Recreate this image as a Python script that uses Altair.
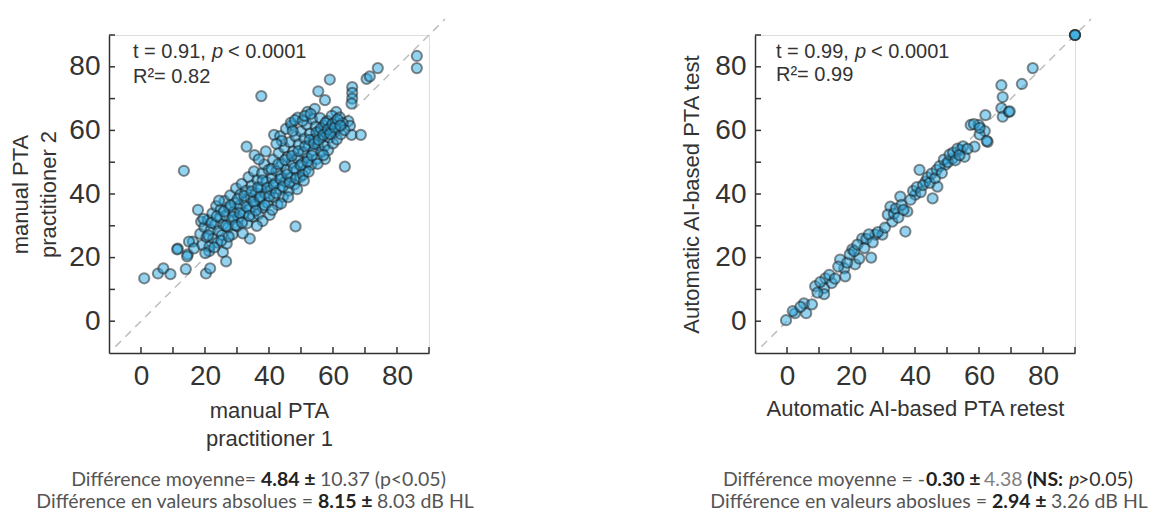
import altair as alt
import pandas as pd

# ---------------- data ----------------
TICKS = [0, 10, 20, 30, 40, 50, 60, 70, 80, 90]
LABEL_TICKS = [0, 20, 40, 60, 80]
DIAG = [-8, 95]

# left panel: (manual PTA practitioner 1, manual PTA practitioner 2)
LEFT_POINTS = [
    (1, 13.5), (5.3, 15), (7, 16.6), (9.2, 14.8), (11.5, 22.8), (13.4, 47.3), (14, 16.4),
    (14.6, 21), (17.8, 35), (16.2, 25), (20.3, 15), (21.6, 16.6), (25.6, 21.7), (26.6, 18.8),
    (34, 26), (37.6, 70.8), (48.3, 29.8), (33, 54.9), (41.6, 58.6), (57.5, 51), (63.7, 48.6),
    (59, 76), (55.4, 72.3), (57.5, 69.5), (66, 73.6), (66, 71.8), (66, 70), (65.8, 68.4),
    (64.8, 62.9), (65.3, 61.4), (65.8, 58.6), (68.7, 58.6), (70.5, 76.2), (71.5, 77), (74, 79.6),
    (86.2, 83.4), (86.2, 79.6), (61, 65.8), (52, 65.8), (49, 64), (47, 61.6), (54.3, 66.8),
    (35.5, 52.2), (18.8, 31.3), (15, 25), (16.6, 22.9), (21.3, 22), (14.4, 20.4), (11.3, 22.6),
    (18.5, 27.5), (19.2, 24), (19.8, 29.6), (20.5, 26.4), (20.9, 31.8), (21.4, 23.5), (21.8, 28.7),
    (22.3, 33.9), (22.6, 26), (23.1, 30.5), (23.5, 36.2), (23.9, 24.7), (24.2, 28.3), (24.6, 32.6),
    (24.9, 35.1), (25.3, 27.1), (25.7, 30.4), (26.1, 37.8), (26.4, 33.2), (26.8, 24.4), (27.2, 29.5),
    (27.5, 35.7), (27.9, 39.6), (28.3, 31.9), (28.6, 27.3), (29.0, 34.4), (29.3, 37.1), (29.7, 41.8),
    (30.1, 29.9), (30.4, 32.7), (30.8, 36.3), (31.1, 39.9), (31.5, 43.2), (31.8, 27.6), (32.2, 34.1),
    (32.5, 37.6), (32.9, 41.1), (33.2, 30.8), (33.6, 45.3), (33.9, 35.4), (34.3, 38.7), (34.6, 42.6),
    (35.0, 32.9), (35.3, 47.1), (35.7, 36.8), (36.0, 40.2), (36.4, 44.4), (36.7, 33.6), (37.1, 38.3),
    (37.4, 42.0), (37.8, 46.5), (38.1, 35.7), (38.5, 49.3), (38.8, 40.1), (39.2, 43.8), (39.5, 37.2),
    (39.9, 47.6), (40.2, 33.4), (40.6, 41.3), (40.9, 45.0), (41.3, 50.8), (41.6, 38.9), (42.0, 43.4),
    (42.3, 47.2), (42.7, 36.6), (43.0, 52.9), (43.4, 41.5), (43.7, 45.8), (44.1, 49.5), (44.4, 39.2),
    (44.8, 54.6), (45.1, 43.9), (45.5, 47.7), (45.8, 51.6), (46.2, 41.1), (46.5, 56.3), (46.9, 45.2),
    (47.2, 49.8), (47.6, 53.4), (47.9, 43.0), (48.3, 58.1), (48.6, 47.4), (49.0, 51.2), (49.3, 55.6),
    (49.7, 45.3), (50.0, 59.7), (50.4, 49.6), (50.7, 53.1), (51.1, 57.4), (51.4, 47.5), (51.8, 61.8),
    (52.1, 51.3), (52.5, 55.2), (52.8, 59.0), (53.2, 49.2), (53.5, 63.5), (53.9, 53.6), (54.2, 57.3),
    (54.6, 61.2), (54.9, 51.0), (55.3, 55.4), (55.6, 59.6), (56.0, 63.9), (56.4, 53.3), (56.7, 57.9),
    (57.1, 61.5), (57.4, 55.1), (57.8, 59.3), (58.2, 63.0), (58.5, 53.8), (58.9, 57.7), (59.3, 61.1),
    (59.6, 64.6), (60.0, 55.9), (60.4, 59.4), (60.8, 62.7), (61.2, 57.2), (61.6, 60.8), (62.1, 64.1),
    (62.5, 58.8), (63.0, 62.3), (63.6, 60.1),
    (19.5, 32.2), (20.1, 21.4), (21.0, 27.0), (22.0, 30.9), (22.9, 23.2), (23.7, 33.0), (24.4, 37.9),
    (25.1, 25.3), (25.9, 34.5), (26.6, 30.0), (27.4, 26.6), (28.0, 36.4), (28.8, 32.8), (29.5, 30.2),
    (30.2, 38.4), (30.9, 34.0), (31.6, 31.0), (32.3, 39.4), (33.0, 35.9), (33.8, 33.1), (34.5, 40.8),
    (35.2, 37.5), (35.9, 34.8), (36.6, 42.1), (37.3, 39.0), (38.0, 44.3), (38.7, 36.5), (39.4, 41.9),
    (40.1, 39.3), (40.8, 47.9), (41.5, 42.8), (42.2, 40.3), (42.9, 49.4), (43.6, 44.7), (44.3, 42.3),
    (45.0, 50.7), (45.7, 46.2), (46.4, 43.6), (47.1, 52.0), (47.8, 48.1), (48.5, 44.9), (49.2, 53.5),
    (49.9, 49.0), (50.6, 46.0), (51.3, 55.0), (52.0, 50.2), (52.7, 57.0), (53.4, 52.1), (54.1, 55.8),
    (54.8, 59.4), (55.5, 57.0), (56.2, 60.6), (57.0, 58.6), (57.7, 62.4), (58.4, 60.3), (59.1, 58.9),
    (59.8, 62.0), (60.6, 60.9), (61.4, 63.5), (62.3, 61.5),
    (43.5, 58.2), (45.3, 60.5), (46.8, 62.4), (48.1, 63.2), (50.5, 63.0), (51.2, 64.6), (53.0, 65.2),
    (44.0, 56.7), (47.4, 59.8), (42.3, 55.8), (39.0, 53.4), (36.8, 50.9),
    (41.0, 35.0), (43.8, 37.0), (46.0, 39.0), (48.8, 41.5), (50.9, 44.2), (52.4, 47.0), (55.2, 49.5),
    (57.0, 52.2), (38.0, 31.5), (36.2, 30.0),
]

# right panel: (Automatic AI-based PTA retest, Automatic AI-based PTA test)
RIGHT_POINTS = [
    (-0.3, 0.3), (2.5, 2.5), (5.3, 5.6), (6, 2.5), (7.8, 5.3), (8.8, 11), (11.6, 10.4), (12, 13.5),
    (14, 12), (11.6, 8.5), (16.6, 19.4), (17.9, 16.6), (18.2, 14.1), (20.4, 22.6), (21.3, 17.9),
    (22.6, 19.7), (23.5, 26), (26.3, 20), (27.6, 27.2), (29.8, 27.2), (32.3, 36), (32.9, 31.3),
    (35.4, 39.2), (37, 28.2), (37.6, 34.5), (40.1, 39.8), (41.4, 47.6), (43.3, 43.9), (45.5, 38.6),
    (47, 42.3), (49.5, 49.2), (51.7, 51.1), (54.2, 53.9), (55.5, 51.7), (58.6, 54.9), (57.4, 61.7),
    (59.9, 61.7), (61.8, 59.8), (62, 64.8), (62.7, 56.4), (67, 74.2), (67.4, 70.5), (67, 67),
    (67.4, 64.3), (69.3, 65.8), (73.4, 74.6), (76.8, 79.6), (90, 90), (90, 90), (90, 90),
    (1.8, 3.2), (4.2, 4.5), (9.5, 9.0), (10.4, 12.3), (13.2, 14.6), (15.0, 13.4), (16.0, 17.2),
    (18.8, 18.4), (19.6, 21.0), (21.0, 22.0), (22.0, 24.1), (24.2, 23.0), (24.8, 25.9), (25.6, 27.3),
    (26.8, 24.8), (28.4, 28.0), (30.6, 29.4), (31.5, 33.5), (33.4, 33.8), (34.0, 35.4), (34.8, 32.6),
    (35.8, 36.6), (36.4, 35.0), (38.6, 38.2), (39.4, 41.0), (40.6, 42.2), (41.8, 40.6), (42.5, 42.8),
    (43.9, 45.2), (44.6, 43.5), (45.2, 46.4), (46.3, 45.0), (46.8, 47.6), (47.7, 48.8), (48.4, 46.6),
    (49.0, 50.8), (50.3, 50.0), (50.8, 52.4), (51.9, 53.0), (52.6, 50.6), (53.3, 54.3), (53.9, 52.2),
    (55.0, 55.0), (56.4, 54.2), (60.2, 58.7), (58.4, 62.0), (60.2, 60.8), (62.4, 56.7), (69.6, 66.0),
]

# ---------------- styling ----------------
W, H = 320, 318
AX_FONT = "Liberation Sans"
TXT_FONT = "Lato"
AX_COLOR = "#333333"
SCALE = alt.Scale(domain=[-10, 90], nice=False, zero=False)


def axis(title, title_pad, label_pad):
    return alt.Axis(
        values=LABEL_TICKS, ticks=False, tickSize=0, grid=False,
        labelFont=AX_FONT, labelFontSize=28, labelColor=AX_COLOR, labelPadding=label_pad,
        labelFlush=False, labelOverlap=False,
        domainColor=AX_COLOR, domainWidth=1.5,
        title=title, titleFont=AX_FONT, titleFontSize=22, titleFontWeight="normal",
        titleColor=AX_COLOR, titlePadding=title_pad, titleLineHeight=28,
    )


def text_layer(s, x, y, size=20, font=AX_FONT, align="left", weight="normal",
               style="normal", color=AX_COLOR):
    return alt.Chart(pd.DataFrame({"t": [s]})).mark_text(
        align=align, baseline="middle", font=font, fontSize=size,
        fontWeight=weight, fontStyle=style, color=color,
    ).encode(text="t:N", x=alt.value(x), y=alt.value(y))


def panel(points, xtitle, ytitle, xpad, ypad, stats, notes):
    X = alt.X("x:Q", scale=SCALE, axis=axis(xtitle, xpad, 9))
    Y = alt.Y("y:Q", scale=SCALE, axis=axis(ytitle, ypad, 9))
    df = pd.DataFrame(points, columns=["x", "y"])

    diag = alt.Chart(pd.DataFrame({"x": DIAG, "y": DIAG})).mark_line(
        color="#bdbdbd", strokeWidth=1.5, strokeDash=[8, 6], clip=False
    ).encode(x=X, y=Y)

    dots = alt.Chart(df).mark_circle(
        size=105, fill="#2aa7df", fillOpacity=0.5,
        stroke="#1a1a1a", strokeOpacity=0.5, strokeWidth=2, clip=False,
    ).encode(x=X, y=Y)

    xticks = alt.Chart(pd.DataFrame({"x": TICKS})).mark_rule(
        color=AX_COLOR, strokeWidth=1.5
    ).encode(x=X, y=alt.value(H), y2=alt.value(H - 6))
    yticks = alt.Chart(pd.DataFrame({"y": TICKS})).mark_rule(
        color=AX_COLOR, strokeWidth=1.5
    ).encode(y=Y, x=alt.value(0), x2=alt.value(6))

    layers = [diag, dots, xticks, yticks]
    for s, x, y, kw in stats + notes:
        layers.append(text_layer(s, x, y, **kw))
    return alt.layer(*layers).properties(width=W, height=H)


FS = 19.5
N = dict(font=TXT_FONT, size=FS, color="#555555")
NR = dict(N, align="right")
B = dict(font=TXT_FONT, size=FS, color="#222222", weight="bold")

left = panel(
    LEFT_POINTS,
    ["manual PTA", "practitioner 1"],
    ["manual PTA", "practitioner 2"],
    10, 8,
    [
        ("t = 0.91,", 24, 17, {}),
        ("p", 103, 17, dict(style="italic")),
        ("< 0.0001", 119, 17, {}),
        ("R\u00b2= 0.82", 24, 42, {}),
    ],
    [
        ("Différence moyenne=", 147, 445, NR),
        ("4.84 \u00b1", 152, 445, B),
        ("10.37 (p<0.05)", 211, 445, N),
        ("Différence en valeurs absolues =", 204, 467, NR),
        ("8.15 \u00b1", 209, 467, B),
        ("8.03 dB HL", 268, 467, N),
    ],
)

right = panel(
    RIGHT_POINTS,
    "Automatic AI-based PTA retest",
    "Automatic AI-based PTA test",
    8, 11,
    [
        ("t = 0.99,", 21, 17, {}),
        ("p", 100, 17, dict(style="italic")),
        ("< 0.0001", 116, 17, {}),
        ("R\u00b2= 0.99", 21, 40, {}),
    ],
    [
        ("Différence moyenne = -", 170, 445, NR),
        ("0.30 \u00b1", 171, 445, B),
        ("4.38", 229, 445, dict(N, color="#808080")),
        ("(NS:", 272, 445, B),
        ("p", 314, 445, dict(N, style="italic", color="#333333")),
        (">0.05)", 323, 445, dict(N, color="#333333")),
        ("Différence en valeurs aboslues =", 232, 467, NR),
        ("2.94 \u00b1", 237, 467, B),
        ("3.26 dB HL", 296, 467, N),
    ],
)

chart = alt.hconcat(left, right, spacing=326, bounds="flush").properties(
    padding={"left": 1, "top": 7, "right": 0, "bottom": 0}
).configure_view(stroke=None).configure(background="white")

chart.save("out.html", embed_options={"renderer": "svg", "actions": False})
